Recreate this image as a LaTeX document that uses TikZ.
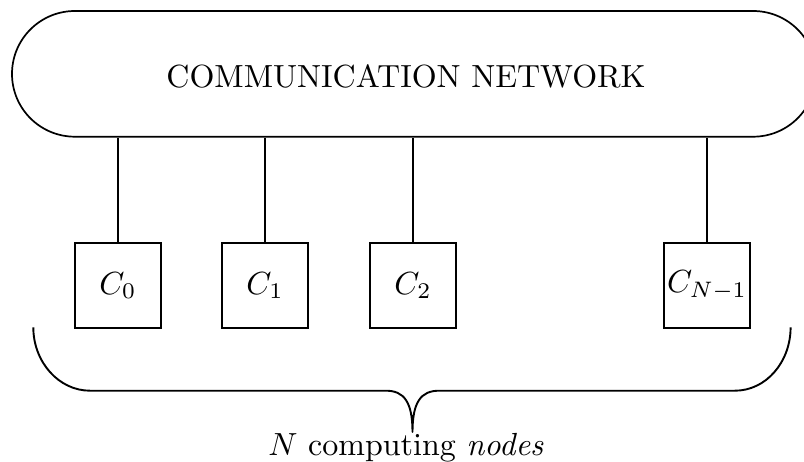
\documentclass[tikz,border=0pt]{standalone}
\usetikzlibrary{shapes.misc}
\newcommand\enl[1]{\scalebox{3.2}{#1}}
\tikzset{
  netshape/.style={rounded rectangle, rounded rectangle arc length=180, draw, line width=1.7pt,
    minimum width=804pt, minimum height=125.7pt, inner sep=0pt},
  proc/.style={draw, line width=2pt, minimum width=85.7pt, minimum height=84.5pt, inner sep=0pt},
  link/.style={line width=1.8pt},
  brace/.style={line width=1.9pt, line join=round},
  lbl/.style={inner sep=0pt}
}
\begin{document}
\begin{tikzpicture}[x=1pt, y=-1pt]
  \useasboundingbox (0,0) rectangle (804,461);
  \clip (0,0) rectangle (804,461);

  % communication network
  \node[netshape] (net) at (414,73.85) {};
  \node[lbl, anchor=base] (nettext) at (406,87) {\enl{COMMUNICATION NETWORK}};

  % computing nodes
  \node[proc] (c0) at (117.9,285.5) {\enl{$C_0$}};
  \node[proc] (c1) at (265,285.5) {\enl{$C_1$}};
  \node[proc] (c2) at (413,285.5) {\enl{$C_2$}};
  \node[proc] (cn) at (707,285.5) {\enl{$C_{N-1}$}};

  % links to the network
  \foreach \n in {c0,c1,c2,cn}
    \draw[link] (\n.north) -- (\n.north |- net.south);

  % brace under the nodes
  \coordinate (bl) at (33.3,327.3);
  \coordinate (br) at (790.6,327.3);
  \coordinate (tip) at (412.5,432);
  \draw[brace] (bl) .. controls (33.3,362) and (58.8,390.7) .. (90,390.7)
    -- (386,390.7) .. controls (404,390.7) and (412.5,402) .. (tip)
    .. controls (412.5,402) and (421,390.7) .. (439,390.7)
    -- (734.9,390.7) .. controls (766.1,390.7) and (790.6,362) .. (br);

  \node[lbl, anchor=base] (label) at (406,455) {\enl{$N$ computing \emph{nodes}}};
\end{tikzpicture}
\end{document}
